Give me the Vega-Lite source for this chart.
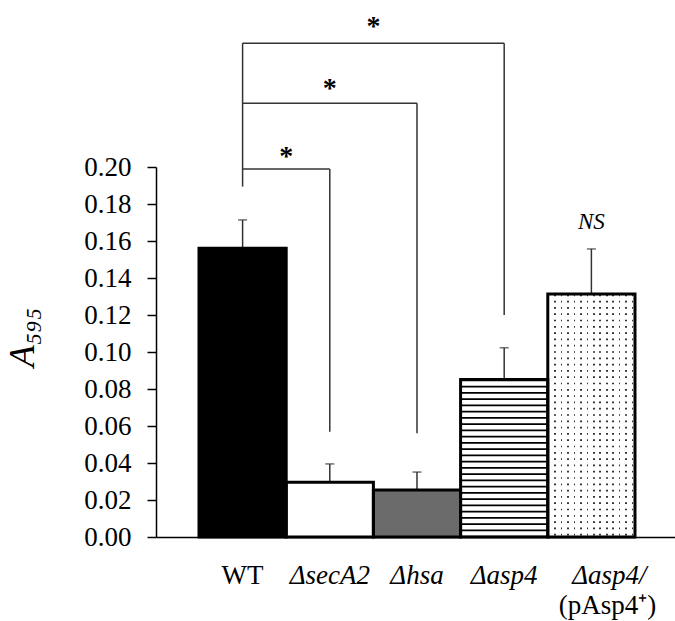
{
  "$schema": "https://vega.github.io/schema/vega-lite/v6.json",
  "width": 519,
  "height": 370,
  "autosize": {"type": "none"},
  "padding": {"left": 156, "top": 167, "right": 0, "bottom": 84},
  "background": "white",
  "config": {
    "view": {"stroke": null},
    "font": "Liberation Serif",
    "axisY": {
      "titleFont": "Liberation Serif",
      "titleFontSize": 36,
      "titleFontStyle": "italic",
      "titleFontWeight": "normal",
      "titleColor": "black",
      "titleAngle": 270,
      "titleAlign": "center",
      "titleBaseline": "alphabetic",
      "titleX": -123,
      "titleY": 170,
      "labelFont": "Liberation Serif",
      "labelFontSize": 27,
      "labelColor": "black",
      "labelPadding": 16,
      "labelFlush": false,
      "labelOverlap": false,
      "labelSeparation": 0,
      "tickCount": 10,
      "tickSize": 9,
      "tickColor": "black",
      "tickWidth": 1.5,
      "domainColor": "black",
      "domainWidth": 1.5,
      "grid": false,
      "format": ".2f"
    },
    "axisX": {
      "labelFont": "Liberation Serif",
      "labelFontSize": 27,
      "labelColor": "black",
      "labelAngle": 0,
      "labelBaseline": "alphabetic",
      "labelPadding": 46,
      "labelOverlap": false,
      "ticks": false,
      "tickSize": 0,
      "domainColor": "black",
      "domainWidth": 1.5,
      "grid": false
    }
  },
  "datasets": {
    "bars": [
      {"strain": "WT", "value": 0.1561, "upper": 0.1714},
      {"strain": "ΔsecA2", "value": 0.0296, "upper": 0.0395},
      {"strain": "Δhsa", "value": 0.0254, "upper": 0.0351},
      {"strain": "Δasp4", "value": 0.0852, "upper": 0.1023},
      {"strain": "Δasp4/(pAsp4⁺)", "value": 0.1314, "upper": 0.1557}
    ],
    "brackets": [
      {"xa": "WT", "xb": "WT", "ya": 0.1894, "yb": 0.2669},
      {"xa": "WT", "xb": "ΔsecA2", "ya": 0.1989, "yb": 0.1989},
      {"xa": "ΔsecA2", "xb": "ΔsecA2", "ya": 0.1989, "yb": 0.0569},
      {"xa": "WT", "xb": "Δhsa", "ya": 0.2344, "yb": 0.2344},
      {"xa": "Δhsa", "xb": "Δhsa", "ya": 0.2344, "yb": 0.0561},
      {"xa": "WT", "xb": "Δasp4", "ya": 0.2669, "yb": 0.2669},
      {"xa": "Δasp4", "xb": "Δasp4", "ya": 0.2669, "yb": 0.12}
    ],
    "stars": [
      {"pair": "ΔsecA2", "at": "ΔsecA2", "y": 0.2011, "text": "*"},
      {"pair": "Δhsa", "at": "ΔsecA2", "y": 0.2378, "text": "*"},
      {"pair": "Δasp4", "at": "Δhsa", "y": 0.2711, "text": "*"}
    ],
    "notes": [{"strain": "Δasp4/(pAsp4⁺)", "y": 0.1663, "text": "NS"}],
    "line2": [{"strain": "Δasp4/(pAsp4⁺)", "text": "(pAsp4⁺)"}]
  },
  "layer": [
    {
      "data": {"name": "bars"},
      "mark": {"type": "bar", "strokeWidth": 0},
      "encoding": {
        "x": {
          "field": "strain",
          "type": "nominal",
          "sort": null,
          "scale": {
            "domain": ["WT", "ΔsecA2", "Δhsa", "Δasp4", "Δasp4/(pAsp4⁺)"],
            "paddingInner": 0,
            "paddingOuter": 0.476,
            "align": 0.518
          },
          "axis": {
            "title": null,
            "labelExpr": "datum.value == 'Δasp4/(pAsp4⁺)' ? 'Δasp4/' : datum.value",
            "labelFontStyle": {"condition": {"test": "datum.value == 'WT'", "value": "normal"}, "value": "italic"},
            "labelOffset": {"condition": {"test": "datum.value == 'Δasp4/(pAsp4⁺)'", "value": 18}, "value": 0}
          }
        },
        "y": {
          "field": "value",
          "type": "quantitative",
          "scale": {"domain": [0, 0.2], "nice": false, "zero": true},
          "axis": {"title": "A₅₉₅", "tickCount": 10, "labelOverlap": false}
        },
        "fill": {
          "field": "strain",
          "type": "nominal",
          "scale": {
            "domain": ["WT", "ΔsecA2", "Δhsa", "Δasp4", "Δasp4/(pAsp4⁺)"],
            "range": ["#000000", "#ffffff", "#6b6b6b", "#ffffff", "#ffffff"]
          },
          "legend": null
        }
      }
    },
    {
      "data": {"name": "bars"},
      "transform": [{"filter": "datum.strain == 'Δasp4'"}],
      "mark": {"type": "rule", "color": "black", "strokeWidth": 87, "strokeDash": [1.8, 4.45]},
      "encoding": {
        "x": {"field": "strain", "type": "nominal"},
        "y": {"field": "value", "type": "quantitative"},
        "y2": {"datum": 0}
      }
    },
    {
      "data": {"name": "bars"},
      "transform": [{"filter": "datum.strain == 'Δasp4/(pAsp4⁺)'"}],
      "mark": {"type": "rule", "color": "#333333", "strokeWidth": 87, "strokeDash": [1.7, 4.6], "strokeDashOffset": 5.75},
      "encoding": {
        "x": {"field": "strain", "type": "nominal"},
        "y": {"field": "value", "type": "quantitative"},
        "y2": {"datum": 0}
      }
    },
    {
      "data": {"name": "bars"},
      "transform": [{"filter": "datum.strain == 'Δasp4/(pAsp4⁺)'"}],
      "mark": {
        "type": "bar",
        "strokeWidth": 0,
        "fill": {
          "gradient": "linear",
          "x1": 0, "y1": 0, "x2": 1, "y2": 0,
          "stops": [
            {"offset": 0, "color": "white"},
            {"offset": 0.074, "color": "white"}, {"offset": 0.074, "color": "rgba(255,255,255,0)"}, {"offset": 0.0935, "color": "rgba(255,255,255,0)"}, {"offset": 0.0935, "color": "white"},
            {"offset": 0.148, "color": "white"}, {"offset": 0.148, "color": "rgba(255,255,255,0)"}, {"offset": 0.1675, "color": "rgba(255,255,255,0)"}, {"offset": 0.1675, "color": "white"},
            {"offset": 0.222, "color": "white"}, {"offset": 0.222, "color": "rgba(255,255,255,0)"}, {"offset": 0.2415, "color": "rgba(255,255,255,0)"}, {"offset": 0.2415, "color": "white"},
            {"offset": 0.296, "color": "white"}, {"offset": 0.296, "color": "rgba(255,255,255,0)"}, {"offset": 0.3155, "color": "rgba(255,255,255,0)"}, {"offset": 0.3155, "color": "white"},
            {"offset": 0.37, "color": "white"}, {"offset": 0.37, "color": "rgba(255,255,255,0)"}, {"offset": 0.3895, "color": "rgba(255,255,255,0)"}, {"offset": 0.3895, "color": "white"},
            {"offset": 0.444, "color": "white"}, {"offset": 0.444, "color": "rgba(255,255,255,0)"}, {"offset": 0.4635, "color": "rgba(255,255,255,0)"}, {"offset": 0.4635, "color": "white"},
            {"offset": 0.518, "color": "white"}, {"offset": 0.518, "color": "rgba(255,255,255,0)"}, {"offset": 0.5375, "color": "rgba(255,255,255,0)"}, {"offset": 0.5375, "color": "white"},
            {"offset": 0.592, "color": "white"}, {"offset": 0.592, "color": "rgba(255,255,255,0)"}, {"offset": 0.6115, "color": "rgba(255,255,255,0)"}, {"offset": 0.6115, "color": "white"},
            {"offset": 0.666, "color": "white"}, {"offset": 0.666, "color": "rgba(255,255,255,0)"}, {"offset": 0.6855, "color": "rgba(255,255,255,0)"}, {"offset": 0.6855, "color": "white"},
            {"offset": 0.74, "color": "white"}, {"offset": 0.74, "color": "rgba(255,255,255,0)"}, {"offset": 0.7595, "color": "rgba(255,255,255,0)"}, {"offset": 0.7595, "color": "white"},
            {"offset": 0.814, "color": "white"}, {"offset": 0.814, "color": "rgba(255,255,255,0)"}, {"offset": 0.8335, "color": "rgba(255,255,255,0)"}, {"offset": 0.8335, "color": "white"},
            {"offset": 0.888, "color": "white"}, {"offset": 0.888, "color": "rgba(255,255,255,0)"}, {"offset": 0.9075, "color": "rgba(255,255,255,0)"}, {"offset": 0.9075, "color": "white"},
            {"offset": 0.962, "color": "white"}, {"offset": 0.962, "color": "rgba(255,255,255,0)"}, {"offset": 0.9815, "color": "rgba(255,255,255,0)"}, {"offset": 0.9815, "color": "white"},
            {"offset": 1, "color": "white"}
          ]
        }
      },
      "encoding": {
        "x": {"field": "strain", "type": "nominal"},
        "y": {"field": "value", "type": "quantitative"}
      }
    },
    {
      "data": {"name": "bars"},
      "mark": {"type": "rule", "color": "#333333", "strokeWidth": 1.5},
      "encoding": {
        "x": {"field": "strain", "type": "nominal"},
        "y": {"field": "value", "type": "quantitative"},
        "y2": {"field": "upper"}
      }
    },
    {
      "data": {"name": "bars"},
      "mark": {"type": "tick", "color": "#333333", "size": 9, "thickness": 1.5, "orient": "horizontal"},
      "encoding": {
        "x": {"field": "strain", "type": "nominal"},
        "y": {"field": "upper", "type": "quantitative"}
      }
    },
    {
      "data": {"name": "bars"},
      "mark": {"type": "bar", "fill": "transparent", "stroke": "black", "strokeWidth": 3},
      "encoding": {
        "x": {"field": "strain", "type": "nominal"},
        "y": {"field": "value", "type": "quantitative"}
      }
    },
    {
      "data": {"name": "brackets"},
      "mark": {"type": "rule", "color": "#333333", "strokeWidth": 1.5},
      "encoding": {
        "x": {"field": "xa", "type": "nominal"},
        "x2": {"field": "xb"},
        "y": {"field": "ya", "type": "quantitative"},
        "y2": {"field": "yb"}
      }
    },
    {
      "data": {"name": "stars"},
      "transform": [{"filter": "datum.pair != 'Δhsa'"}],
      "mark": {"type": "text", "font": "Liberation Serif", "fontSize": 28, "fontWeight": "bold", "color": "black", "baseline": "alphabetic", "align": "center"},
      "encoding": {
        "x": {"field": "at", "type": "nominal", "bandPosition": 0},
        "y": {"field": "y", "type": "quantitative"},
        "text": {"field": "text"}
      }
    },
    {
      "data": {"name": "stars"},
      "transform": [{"filter": "datum.pair == 'Δhsa'"}],
      "mark": {"type": "text", "font": "Liberation Serif", "fontSize": 28, "fontWeight": "bold", "color": "black", "baseline": "alphabetic", "align": "center"},
      "encoding": {
        "x": {"field": "at", "type": "nominal"},
        "y": {"field": "y", "type": "quantitative"},
        "text": {"field": "text"}
      }
    },
    {
      "data": {"name": "notes"},
      "mark": {"type": "text", "font": "Liberation Serif", "fontSize": 23, "fontStyle": "italic", "color": "black", "baseline": "alphabetic", "align": "center"},
      "encoding": {
        "x": {"field": "strain", "type": "nominal"},
        "y": {"field": "y", "type": "quantitative"},
        "text": {"field": "text"}
      }
    },
    {
      "data": {"name": "line2"},
      "mark": {"type": "text", "font": "Liberation Serif", "fontSize": 27, "color": "black", "baseline": "alphabetic", "align": "center", "dx": 16, "dy": 77},
      "encoding": {
        "x": {"field": "strain", "type": "nominal"},
        "y": {"datum": 0},
        "text": {"field": "text"}
      }
    }
  ]
}
